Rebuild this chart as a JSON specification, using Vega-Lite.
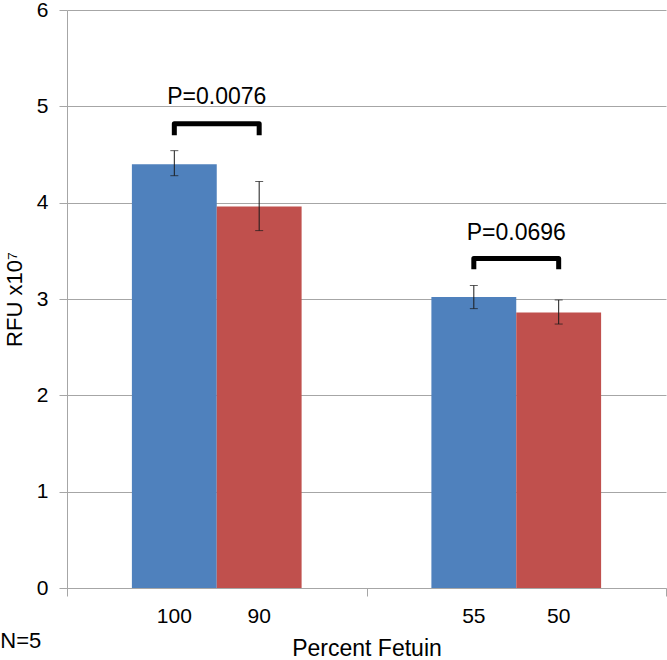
{
  "$schema": "https://vega.github.io/schema/vega-lite/v6.json",
  "autosize": "none",
  "width": 599,
  "height": 578,
  "padding": {"left": 67, "top": 10, "right": 1, "bottom": 72},
  "config": {"view": {"stroke": null}, "font": "Liberation Sans"},
  "title": {"text": "N=5", "orient": "bottom", "anchor": "start", "frame": "bounds", "offset": -30, "fontSize": 22, "fontWeight": "normal", "color": "#000", "dx": -3},
  "datasets": {
    "bars": [
      {"group": "G1", "series": "A", "label": "100", "value": 4.40, "lo": 4.28, "hi": 4.54},
      {"group": "G1", "series": "B", "label": "90", "value": 3.96, "lo": 3.71, "hi": 4.22},
      {"group": "G2", "series": "A", "label": "55", "value": 3.02, "lo": 2.90, "hi": 3.14},
      {"group": "G2", "series": "B", "label": "50", "value": 2.86, "lo": 2.74, "hi": 2.99}
    ],
    "brackets": [
      {"group": "G1", "series": "A", "y": 4.70, "ord": 1},
      {"group": "G1", "series": "A", "y": 4.82, "ord": 2},
      {"group": "G1", "series": "B", "y": 4.82, "ord": 3},
      {"group": "G1", "series": "B", "y": 4.70, "ord": 4},
      {"group": "G2", "series": "A", "y": 3.31, "ord": 1},
      {"group": "G2", "series": "A", "y": 3.42, "ord": 2},
      {"group": "G2", "series": "B", "y": 3.42, "ord": 3},
      {"group": "G2", "series": "B", "y": 3.31, "ord": 4}
    ],
    "pvals": [
      {"group": "G1", "text": "P=0.0076", "y": 5.10},
      {"group": "G2", "text": "P=0.0696", "y": 3.69}
    ]
  },
  "encoding": {
    "x": {
      "field": "group", "type": "nominal",
      "scale": {"paddingInner": 0, "paddingOuter": 0},
      "axis": {"labels": false, "tickBand": "extent", "tickSize": 8, "tickColor": "#a6a6a6", "domainColor": "#a6a6a6", "grid": false,
               "title": "Percent Fetuin", "titleFontSize": 23, "titleFontWeight": "normal", "titleColor": "#000", "titlePadding": 41}
    }
  },
  "layer": [
    {
      "data": {"name": "bars"},
      "mark": {"type": "bar"},
      "encoding": {
        "xOffset": {"field": "series", "type": "nominal", "scale": {"paddingInner": 0, "paddingOuter": 0.7647}},
        "y": {
          "field": "value", "type": "quantitative",
          "scale": {"domain": [0, 6], "nice": false},
          "axis": {"values": [0, 1, 2, 3, 4, 5, 6], "format": "d", "grid": true, "gridColor": "#a6a6a6", "domainColor": "#a6a6a6", "tickColor": "#a6a6a6",
                   "tickSize": 8, "labelPadding": 11, "labelFontSize": 21, "labelColor": "#000",
                   "title": "RFU x10⁷", "titleFontSize": 22, "titleFontWeight": "normal", "titleColor": "#000", "titlePadding": 10}
        },
        "color": {"field": "series", "type": "nominal", "scale": {"domain": ["A", "B"], "range": ["#4F81BD", "#C0504D"]}, "legend": null}
      }
    },
    {
      "data": {"name": "bars"},
      "mark": {"type": "rule", "color": "#1a1a1a", "strokeWidth": 1},
      "encoding": {
        "xOffset": {"field": "series", "type": "nominal"},
        "y": {"field": "lo", "type": "quantitative"}, "y2": {"field": "hi"}}
    },
    {
      "data": {"name": "bars"},
      "mark": {"type": "tick", "color": "#1a1a1a", "size": 8, "thickness": 1, "orient": "horizontal"},
      "encoding": {
        "xOffset": {"field": "series", "type": "nominal"},
        "y": {"field": "lo", "type": "quantitative"}}
    },
    {
      "data": {"name": "bars"},
      "mark": {"type": "tick", "color": "#1a1a1a", "size": 8, "thickness": 1, "orient": "horizontal"},
      "encoding": {
        "xOffset": {"field": "series", "type": "nominal"},
        "y": {"field": "hi", "type": "quantitative"}}
    },
    {
      "data": {"name": "bars"},
      "mark": {"type": "text", "fontSize": 21, "color": "#000", "baseline": "middle", "dy": 29},
      "encoding": {
        "xOffset": {"field": "series", "type": "nominal"},
        "y": {"datum": 0, "type": "quantitative"}, "text": {"field": "label"}}
    },
    {
      "data": {"name": "brackets"},
      "mark": {"type": "line", "color": "#000", "strokeWidth": 5, "strokeJoin": "round"},
      "encoding": {
        "xOffset": {"field": "series", "type": "nominal"},
        "y": {"field": "y", "type": "quantitative"},
        "detail": {"field": "group"},
        "order": {"field": "ord", "type": "quantitative"}
      }
    },
    {
      "data": {"name": "pvals"},
      "mark": {"type": "text", "fontSize": 23, "color": "#000", "baseline": "middle"},
      "encoding": {
        "y": {"field": "y", "type": "quantitative"},
        "text": {"field": "text"}
      }
    }
  ]
}
